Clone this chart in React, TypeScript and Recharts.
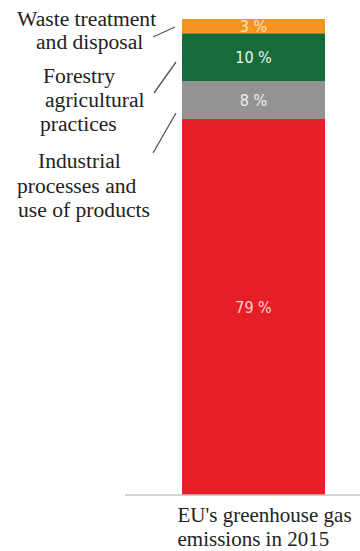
import React from 'react';
import { BarChart, Bar, XAxis, YAxis, LabelList, Customized } from 'recharts';

// one stacked column, shares in percent
const categories = ["EU's greenhouse gas emissions in 2015"];
const energy = [79];
const industrial = [8];
const agriculture = [10];
const waste = [3];

const sideNotes = [
  { text: 'Waste treatment', x: 17, y: 26 },
  { text: 'and disposal', x: 36, y: 49 },
  { text: 'Forestry', x: 43, y: 83 },
  { text: 'agricultural', x: 45, y: 107 },
  { text: 'practices', x: 40, y: 131 },
  { text: 'Industrial', x: 38, y: 168 },
  { text: 'processes and', x: 17, y: 193 },
  { text: 'use of products', x: 18, y: 217 },
];

const leaders = [
  [153, 37, 175, 27],
  [154, 93, 176, 62],
  [153, 153, 176, 113],
];

const data = categories.map((name, i) => ({
  name,
  energy: energy[i],
  industrial: industrial[i],
  agriculture: agriculture[i],
  waste: waste[i],
}));

const serif = "'Liberation Serif', 'Times New Roman', serif";
const narrow = "'Liberation Sans Narrow', 'DejaVu Sans Condensed', sans-serif";
const serifStyle = { fontFamily: serif };
const narrowStyle = { fontFamily: narrow };

function CategoryTick(props: any) {
  const { x, payload } = props;
  const label: string = payload.value;
  const cut = label.indexOf('gas ') + 3;
  const lines = [label.slice(0, cut), label.slice(cut + 1)];
  return (
    <g>
      {lines.map((line, i) => (
        <text
          key={i}
          x={x - 76}
          y={522 + i * 24}
          style={serifStyle}
          fontSize={21}
          fill="#222"
        >
          {line}
        </text>
      ))}
    </g>
  );
}

function SideNotes() {
  return (
    <g>
      {sideNotes.map((n) => (
        <text key={n.text} x={n.x} y={n.y} style={serifStyle} fontSize={21.6} fill="#222">
          {n.text}
        </text>
      ))}
      {leaders.map((l, i) => (
        <line key={i} x1={l[0]} y1={l[1]} x2={l[2]} y2={l[3]} stroke="#555" strokeWidth={1.3} />
      ))}
    </g>
  );
}

const pct = (v: any) => `${v} %`;

export default function App() {
  return (
    <div style={{ position: 'fixed', left: 0, top: 0, width: 360, height: 551, background: '#fff' }}>
      <BarChart
        width={360}
        height={551}
        data={data}
        margin={{ top: 19, right: 0, bottom: 0, left: 125 }}
        barSize={143}
        style={serifStyle}
      >
        <YAxis hide domain={[0, 100]} />
        <XAxis
          dataKey="name"
          height={56}
          tickSize={0}
          tickMargin={0}
          tickLine={false}
          axisLine={{ stroke: '#c4c4c4', strokeWidth: 1.5 }}
          padding={{ left: 22, right: 0 }}
          tick={<CategoryTick />}
          interval={0}
        />
        <Bar dataKey="energy" stackId="a" fill="#e61e25" isAnimationActive={false}>
          <LabelList dataKey="energy" position="center" formatter={pct} fill="#f6d3d3" fontSize={16} style={narrowStyle} />
        </Bar>
        <Bar dataKey="industrial" stackId="a" fill="#939393" isAnimationActive={false}>
          <LabelList dataKey="industrial" position="center" formatter={pct} fill="#eeeeee" fontSize={16} style={narrowStyle} />
        </Bar>
        <Bar dataKey="agriculture" stackId="a" fill="#176b3a" isAnimationActive={false}>
          <LabelList dataKey="agriculture" position="center" formatter={pct} fill="#eef5ef" fontSize={16} style={narrowStyle} />
        </Bar>
        <Bar dataKey="waste" stackId="a" fill="#f5951f" isAnimationActive={false}>
          <LabelList dataKey="waste" position="center" formatter={pct} fill="#fde3b5" fontSize={16} style={narrowStyle} />
        </Bar>
        <Customized component={SideNotes} />
      </BarChart>
    </div>
  );
}
